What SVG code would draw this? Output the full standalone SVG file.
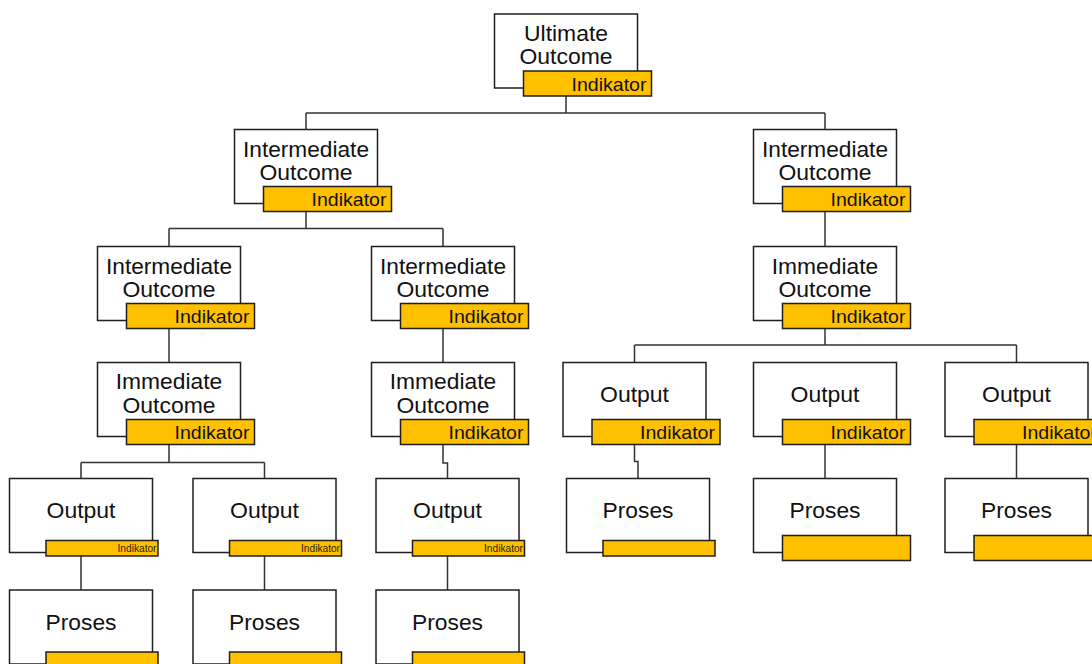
<svg xmlns="http://www.w3.org/2000/svg" width="1092" height="664" viewBox="0 0 1092 664">
<style>
.box{fill:#fff;stroke:#1f1f1f;stroke-width:1.5}
.bar{fill:#FFC000;stroke:#1f1f1f;stroke-width:1.5}
.lbl{font-family:"Liberation Sans",Arial,sans-serif;font-size:21.5px;fill:#111}
.ind{font-family:"Liberation Sans",Arial,sans-serif;font-size:19px;fill:#111}
.sind{font-family:"Liberation Sans",Arial,sans-serif;font-size:10.5px;fill:#2a2200}
.con{fill:none;stroke:#333;stroke-width:1.5}
</style>
<rect width="1092" height="664" fill="#fff"/>
<g id="connectors" class="con">
<path d="M566,96 V113 M306,113 H825 M306,113 V129.5 M825,113 V129.5"/>
<path d="M306,211.5 V228.5 M169,228.5 H443 M169,228.5 V246.5 M443,228.5 V246.5"/>
<path d="M825,211.5 V246.5"/>
<path d="M169,328.5 V362.5"/>
<path d="M443,328.5 V362.5"/>
<path d="M825,328.5 V345 M634.5,345 H1016.5 M634.5,345 V362.5 M1016.5,345 V362.5"/>
<path d="M169,444.5 V462.5 M81,462.5 H264.5 M81,462.5 V478.5 M264.5,462.5 V478.5"/>
<path d="M443,444.5 V463 H447.5 V478.5"/>
<path d="M634.5,444.5 V461.5 H638 V478.5"/>
<path d="M825,444.5 V478.5"/>
<path d="M1016.5,444.5 V478.5"/>
<path d="M81,556 V590 M264.5,556 V590 M447.5,556 V590"/>
</g>
<g id="ultimate-outcome">
<rect class="box" x="494.5" y="14" width="143" height="74"/>
<rect class="bar" x="523.5" y="71" width="128" height="25"/>
<text class="lbl" x="524" y="40.5" textLength="84" lengthAdjust="spacingAndGlyphs">Ultimate</text>
<text class="lbl" x="519.5" y="64" textLength="93" lengthAdjust="spacingAndGlyphs">Outcome</text>
<text class="ind" x="571.5" y="90.5" textLength="75" lengthAdjust="spacingAndGlyphs">Indikator</text>
</g>
<g id="intermediate-l1">
<rect class="box" x="234.5" y="129.5" width="143" height="74"/>
<rect class="bar" x="263.5" y="186.5" width="128" height="25"/>
<text class="lbl" x="243" y="156.5" textLength="126" lengthAdjust="spacingAndGlyphs">Intermediate</text>
<text class="lbl" x="259.5" y="180" textLength="93" lengthAdjust="spacingAndGlyphs">Outcome</text>
<text class="ind" x="311.5" y="206" textLength="75" lengthAdjust="spacingAndGlyphs">Indikator</text>
</g>
<g id="intermediate-r1">
<rect class="box" x="753.5" y="129.5" width="143" height="74"/>
<rect class="bar" x="782.5" y="186.5" width="128" height="25"/>
<text class="lbl" x="762" y="156.5" textLength="126" lengthAdjust="spacingAndGlyphs">Intermediate</text>
<text class="lbl" x="778.5" y="180" textLength="93" lengthAdjust="spacingAndGlyphs">Outcome</text>
<text class="ind" x="830.5" y="206" textLength="75" lengthAdjust="spacingAndGlyphs">Indikator</text>
</g>
<g id="intermediate-l2a">
<rect class="box" x="97.5" y="246.5" width="143" height="74"/>
<rect class="bar" x="126.5" y="303.5" width="128" height="25"/>
<text class="lbl" x="106" y="273.5" textLength="126" lengthAdjust="spacingAndGlyphs">Intermediate</text>
<text class="lbl" x="122.5" y="297" textLength="93" lengthAdjust="spacingAndGlyphs">Outcome</text>
<text class="ind" x="174.5" y="323" textLength="75" lengthAdjust="spacingAndGlyphs">Indikator</text>
</g>
<g id="intermediate-l2b">
<rect class="box" x="371.5" y="246.5" width="143" height="74"/>
<rect class="bar" x="400.5" y="303.5" width="128" height="25"/>
<text class="lbl" x="380" y="273.5" textLength="126" lengthAdjust="spacingAndGlyphs">Intermediate</text>
<text class="lbl" x="396.5" y="297" textLength="93" lengthAdjust="spacingAndGlyphs">Outcome</text>
<text class="ind" x="448.5" y="323" textLength="75" lengthAdjust="spacingAndGlyphs">Indikator</text>
</g>
<g id="immediate-r">
<rect class="box" x="753.5" y="246.5" width="143" height="74"/>
<rect class="bar" x="782.5" y="303.5" width="128" height="25"/>
<text class="lbl" x="771.75" y="273.5" textLength="106.5" lengthAdjust="spacingAndGlyphs">Immediate</text>
<text class="lbl" x="778.5" y="297" textLength="93" lengthAdjust="spacingAndGlyphs">Outcome</text>
<text class="ind" x="830.5" y="323" textLength="75" lengthAdjust="spacingAndGlyphs">Indikator</text>
</g>
<g id="immediate-l">
<rect class="box" x="97.5" y="362.5" width="143" height="74"/>
<rect class="bar" x="126.5" y="419.5" width="128" height="25"/>
<text class="lbl" x="115.75" y="389" textLength="106.5" lengthAdjust="spacingAndGlyphs">Immediate</text>
<text class="lbl" x="122.5" y="412.5" textLength="93" lengthAdjust="spacingAndGlyphs">Outcome</text>
<text class="ind" x="174.5" y="439" textLength="75" lengthAdjust="spacingAndGlyphs">Indikator</text>
</g>
<g id="immediate-l2b">
<rect class="box" x="371.5" y="362.5" width="143" height="74"/>
<rect class="bar" x="400.5" y="419.5" width="128" height="25"/>
<text class="lbl" x="389.75" y="389" textLength="106.5" lengthAdjust="spacingAndGlyphs">Immediate</text>
<text class="lbl" x="396.5" y="412.5" textLength="93" lengthAdjust="spacingAndGlyphs">Outcome</text>
<text class="ind" x="448.5" y="439" textLength="75" lengthAdjust="spacingAndGlyphs">Indikator</text>
</g>
<g id="output-r1">
<rect class="box" x="563" y="362.5" width="143" height="74"/>
<rect class="bar" x="592" y="419.5" width="128" height="25"/>
<text class="lbl" x="600" y="401.7" textLength="69" lengthAdjust="spacingAndGlyphs">Output</text>
<text class="ind" x="640" y="439" textLength="75" lengthAdjust="spacingAndGlyphs">Indikator</text>
</g>
<g id="output-r2">
<rect class="box" x="753.5" y="362.5" width="143" height="74"/>
<rect class="bar" x="782.5" y="419.5" width="128" height="25"/>
<text class="lbl" x="790.5" y="401.7" textLength="69" lengthAdjust="spacingAndGlyphs">Output</text>
<text class="ind" x="830.5" y="439" textLength="75" lengthAdjust="spacingAndGlyphs">Indikator</text>
</g>
<g id="output-r3">
<rect class="box" x="945" y="362.5" width="143" height="74"/>
<rect class="bar" x="974" y="419.5" width="128" height="25"/>
<text class="lbl" x="982" y="401.7" textLength="69" lengthAdjust="spacingAndGlyphs">Output</text>
<text class="ind" x="1022" y="439" textLength="75" lengthAdjust="spacingAndGlyphs">Indikator</text>
</g>
<g id="output-l1">
<rect class="box" x="9.5" y="478.5" width="143" height="74"/>
<rect class="bar" x="46" y="540.5" width="112" height="15.5"/>
<text class="lbl" x="46.5" y="518.2" textLength="69" lengthAdjust="spacingAndGlyphs">Output</text>
<text class="sind" x="117.5" y="552" textLength="39" lengthAdjust="spacingAndGlyphs">Indikator</text>
</g>
<g id="output-l2">
<rect class="box" x="193" y="478.5" width="143" height="74"/>
<rect class="bar" x="229.5" y="540.5" width="112" height="15.5"/>
<text class="lbl" x="230" y="518.2" textLength="69" lengthAdjust="spacingAndGlyphs">Output</text>
<text class="sind" x="301" y="552" textLength="39" lengthAdjust="spacingAndGlyphs">Indikator</text>
</g>
<g id="output-l3">
<rect class="box" x="376" y="478.5" width="143" height="74"/>
<rect class="bar" x="412.5" y="540.5" width="112" height="15.5"/>
<text class="lbl" x="413" y="518.2" textLength="69" lengthAdjust="spacingAndGlyphs">Output</text>
<text class="sind" x="484" y="552" textLength="39" lengthAdjust="spacingAndGlyphs">Indikator</text>
</g>
<g id="proses-r1">
<rect class="box" x="566.5" y="478.5" width="143" height="74"/>
<rect class="bar" x="603" y="540.5" width="112" height="15.5"/>
<text class="lbl" x="602.5" y="518" textLength="71" lengthAdjust="spacingAndGlyphs">Proses</text>
</g>
<g id="proses-r2">
<rect class="box" x="753.5" y="478.5" width="143" height="74"/>
<rect class="bar" x="782.5" y="535.5" width="128" height="25"/>
<text class="lbl" x="789.5" y="518" textLength="71" lengthAdjust="spacingAndGlyphs">Proses</text>
</g>
<g id="proses-r3">
<rect class="box" x="945" y="478.5" width="143" height="74"/>
<rect class="bar" x="974" y="535.5" width="128" height="25"/>
<text class="lbl" x="981" y="518" textLength="71" lengthAdjust="spacingAndGlyphs">Proses</text>
</g>
<g id="proses-l1">
<rect class="box" x="9.5" y="590" width="143" height="74"/>
<rect class="bar" x="46" y="652" width="112" height="15.5"/>
<text class="lbl" x="45.5" y="629.5" textLength="71" lengthAdjust="spacingAndGlyphs">Proses</text>
</g>
<g id="proses-l2">
<rect class="box" x="193" y="590" width="143" height="74"/>
<rect class="bar" x="229.5" y="652" width="112" height="15.5"/>
<text class="lbl" x="229" y="629.5" textLength="71" lengthAdjust="spacingAndGlyphs">Proses</text>
</g>
<g id="proses-l3">
<rect class="box" x="376" y="590" width="143" height="74"/>
<rect class="bar" x="412.5" y="652" width="112" height="15.5"/>
<text class="lbl" x="412" y="629.5" textLength="71" lengthAdjust="spacingAndGlyphs">Proses</text>
</g>
</svg>
